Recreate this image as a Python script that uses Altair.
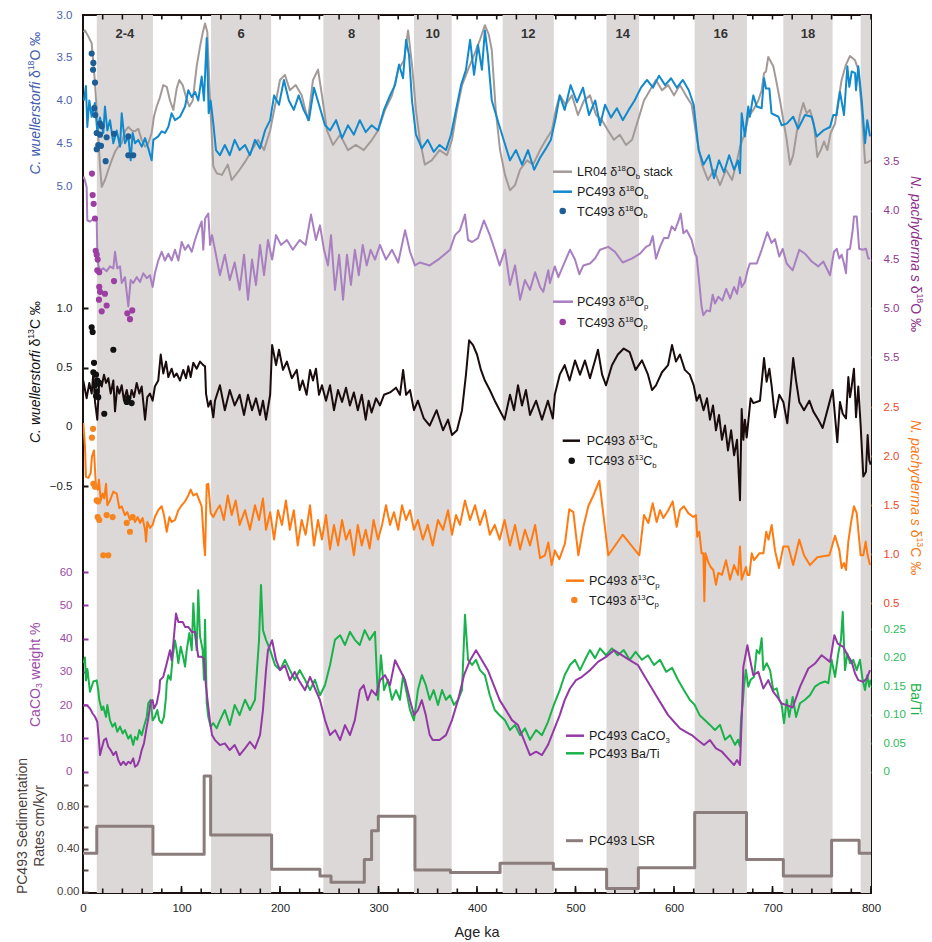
import altair as alt
import pandas as pd

FONT = "Liberation Sans"

# ------------------------------------------------------------------ data
# Marine isotope stage bands (ka) and their labels
BAND_START = [14, 130, 244, 336, 426, 531.5, 621, 711, 789.5]
BAND_END = [71, 191, 301.5, 374.3, 478, 564.5, 674, 761, 800]
STAGE_NAMES = ["2-4", "6", "8", "10", "12", "14", "16", "18"]

# LR04 benthic d18O stack (age ka, permil)
LR04 = [(0.5,3.2),(2,3.18),(5.4,3.25),(8.8,3.33),(12.2,3.8),(14.5,4.23),(17.3,4.77),(19,5.01),(22.3,4.93),(25.7,4.81),(29.1,4.7),(32.5,4.6),(35.8,4.54),(39.3,4.5),(42.6,4.36),(46,4.31),(49.4,4.35),(52.8,4.36),(56.1,4.33),(59.6,4.46),(63,4.54),(66.3,4.5),(69.7,4.38),(72,4.19),(74.8,4.07),(78.2,3.96),(81.5,3.82),(85,3.84),(88.3,4.0),(91.7,4.11),(95.1,3.86),(97.8,3.76),(101.2,3.82),(104.6,3.96),(107.9,4.07),(111.4,4.0),(115.4,3.6),(118.8,3.37),(121.5,3.21),(123.9,3.1),(126.2,3.2),(129,4.0),(132.3,4.77),(135.7,4.85),(141,4.87),(147,4.75),(151,4.93),(159,4.81),(165.5,4.7),(171.6,4.58),(177.7,4.46),(183.8,4.58),(190,4.35),(196,4.0),(200,3.76),(205,3.7),(210,3.88),(216,3.82),(222,3.94),(228.4,4.23),(233.5,3.76),(238.6,3.64),(242.6,3.94),(247.7,4.35),(253.8,4.52),(261,4.4),(269,4.58),(277,4.52),(285,4.58),(293.4,4.46),(299.5,4.35),(306.6,4.11),(313.7,3.94),(320,3.64),(326,3.53),(330,3.18),(334,3.58),(338,4.11),(342,4.46),(347,4.75),(354,4.7),(362,4.58),(369.5,4.64),(374.6,4.46),(379.7,4.11),(384.8,3.82),(390.9,3.64),(397,3.47),(403,3.29),(408,3.12),(412,3.23),(415,3.41),(419,4.11),(423.4,4.58),(428.4,4.87),(433.5,5.05),(438.6,4.99),(443.7,4.81),(450.8,4.7),(456.9,4.75),(464,4.58),(470,4.46),(476,4.35),(480,4.11),(484,3.94),(490,4.05),(496.4,3.94),(502.5,4.17),(508.6,4.0),(514.7,3.94),(520.8,4.17),(526.9,4.23),(533,4.35),(539,4.46),(545,4.4),(551.3,4.52),(557.4,4.46),(563.5,4.23),(569.5,4.0),(575.6,3.88),(581.7,3.76),(587.8,3.88),(594,3.82),(600,3.94),(606,3.82),(612,3.94),(618,4.05),(623.4,4.46),(628.4,4.75),(634.5,4.93),(640.6,4.81),(646.7,4.99),(652.8,4.81),(659,4.93),(664,4.7),(667,4.54),(672,4.38),(675.4,4.19),(680.5,4.11),(685.6,4.0),(689,3.88),(691.4,3.68),(693.4,3.66),(695.7,3.49),(700.8,3.6),(704.3,3.8),(707.6,4.0),(711,4.23),(714.4,4.46),(717.8,4.75),(721,4.64),(724.5,4.38),(727.9,4.17),(731.3,4.03),(734.7,4.15),(738,4.11),(742,4.27),(745.5,4.66),(749,4.58),(752.3,4.48),(755.7,4.58),(759,4.38),(763.5,4.27),(766.8,4.0),(770.2,3.76),(774.6,3.58),(778.7,3.48),(783.8,3.53),(787.1,3.64),(790.6,4.11),(794,4.73),(797.3,4.72),(799.7,4.7)]

# PC493 benthic (C. wuellerstorfi) d18O
PC_D18OB = [(1,4.0),(3,3.83),(4.4,4.31),(6.4,4.0),(8.8,4.19),(12,4.03),(14.5,4.36),(17.3,4.2),(20.6,4.38),(22.3,4.07),(24.7,4.35),(27.4,4.23),(30.8,4.5),(34.2,4.35),(37.6,4.54),(39.3,4.15),(42.6,4.5),(46,4.42),(48.4,4.7),(50.4,4.38),(52.8,4.5),(56.1,4.46),(59.6,4.54),(63,4.44),(66.3,4.56),(69.7,4.7),(71.4,4.46),(76.4,4.42),(79.9,4.36),(83.2,4.38),(86.6,4.31),(90,4.15),(93.4,4.23),(98.5,4.19),(103.6,4.07),(106.9,3.88),(110.4,3.96),(113.7,3.9),(117,4.0),(120.5,3.72),(122.8,4.0),(125.6,3.27),(127.6,4.15),(129.6,4.0),(132.3,4.27),(135,4.58),(139,4.64),(144,4.52),(149,4.64),(154,4.46),(159,4.58),(164.5,4.52),(169.5,4.64),(174.6,4.46),(179.7,4.56),(184.8,4.35),(190,4.23),(194,3.94),(199,4.05),(204,3.76),(209,4.0),(214,4.11),(219,3.94),(224,4.11),(229.4,4.23),(234.5,3.85),(239.6,4.05),(245.7,4.29),(250.8,4.35),(256.9,4.23),(263,4.44),(269,4.29),(275,4.4),(281,4.23),(287,4.37),(293,4.29),(299.5,4.35),(305.6,4.11),(311.7,3.94),(316.8,3.82),(320.8,3.58),(324.9,3.74),(328,3.29),(331,3.47),(334,4.0),(338,4.4),(344,4.56),(350,4.46),(356,4.6),(362,4.52),(368.5,4.58),(373.6,4.4),(378.7,4.11),(383.8,3.82),(388.8,3.64),(393,3.29),(397,3.7),(401,3.35),(405,3.64),(408,3.18),(411,3.47),(415,4.0),(421,4.23),(427,4.46),(433.5,4.7),(439.6,4.58),(445.7,4.75),(451.8,4.58),(458,4.81),(464,4.67),(470,4.56),(475,4.46),(480,4.2),(484,3.94),(489,4.11),(495,3.82),(501.5,4.02),(507.6,3.85),(513.7,4.17),(520,4.0),(525,4.29),(530,4.05),(536,4.2),(542,4.09),(548,4.23),(554,4.11),(560,4.0),(566.5,3.85),(572.6,3.76),(578.7,3.85),(584.8,3.71),(591,3.82),(597,3.74),(603,3.85),(609,3.76),(615,3.88),(620,4.05),(625,4.58),(630,4.75),(635.5,4.64),(640.6,4.91),(645.7,4.7),(650.8,4.84),(656,4.64),(661,4.81),(665,4.7),(667,4.85),(668.7,4.15),(672,4.42),(675.4,4.07),(677,4.19),(680.5,3.94),(684,4.07),(689,4.09),(691.4,3.74),(693.4,3.86),(696.8,3.86),(699,4.15),(706,4.19),(709.3,4.29),(714.4,4.27),(721,4.19),(726,4.33),(733,4.17),(739.8,4.19),(744.8,4.42),(751.6,4.35),(758.4,4.31),(761.7,4.17),(765,4.17),(768.5,3.9),(772.6,4.17),(776,3.6),(778,3.84),(780.4,3.66),(783.8,3.68),(784.8,3.88),(787.1,3.6),(790.6,4.0),(794,4.5),(796.2,4.23),(799,4.42)]

# TC493 core-top benthic d18O
TC_D18OB = [(8.8,3.45),(10.5,3.56),(10.2,3.64),(12.2,3.79),(11.5,4.09),(12.5,4.17),(17.3,4.27),(19,4.3),(13.9,4.38),(17.3,4.4),(24,4.43),(31.5,4.39),(15.5,4.52),(13.9,4.57),(18.3,4.53),(46,4.42),(46,4.64),(51,4.64),(23,4.71)]

# PC493 planktic (N. pachyderma s) d18O
PC_D18OP = [(0.5,3.65),(2,3.69),(3.7,3.76),(4.4,4.1),(7.1,4.11),(10,4.09),(13.9,4.1),(14.5,4.4),(15.5,4.56),(17.3,4.61),(20.6,4.59),(24,4.62),(27.4,4.57),(30.8,4.59),(32.5,4.42),(34.8,4.59),(37.6,4.57),(39.3,4.74),(42.6,4.68),(46,4.98),(48.4,4.71),(51,4.74),(54.5,4.68),(57.9,4.73),(61.2,4.64),(64.7,4.69),(68,4.66),(70.7,4.78),(73,4.64),(76.4,4.51),(79.9,4.42),(83.2,4.51),(86.6,4.44),(90,4.51),(93.4,4.4),(96.8,4.51),(100.2,4.32),(103.6,4.4),(106.9,4.35),(110.4,4.42),(113.7,4.3),(117,4.2),(120.5,4.11),(122.1,4.4),(124,4.08),(127.2,4.03),(129,4.35),(131,4.25),(134,4.4),(139,4.66),(144,4.45),(149,4.71),(154,4.53),(159,4.81),(163.5,4.45),(167.5,4.91),(171.6,4.5),(175.6,4.76),(179.7,4.35),(183.8,4.66),(187.8,4.3),(192,4.5),(196,4.25),(201,4.35),(207,4.3),(213,4.4),(220,4.3),(226,4.35),(231.5,4.04),(236.5,4.3),(240.6,4.15),(244.7,4.4),(248.7,4.56),(251.8,4.25),(255.8,4.81),(260,4.45),(264,4.91),(268,4.45),(272,4.76),(276,4.4),(280,4.66),(284,4.35),(288,4.56),(292,4.4),(296.4,4.5),(301.5,4.35),(307.6,4.5),(313.7,4.4),(320,4.53),(327,4.2),(332,4.42),(337,4.56),(342,4.53),(352,4.56),(362,4.49),(372.6,4.4),(377.7,4.25),(382.7,4.2),(387.8,4.04),(390.9,4.3),(395,4.32),(401,4.28),(407,4.1),(413,4.25),(418,4.4),(423,4.56),(428.4,4.4),(433.5,4.76),(438.6,4.56),(443.7,4.91),(448.7,4.71),(453.8,4.81),(459,4.63),(464,4.78),(467.3,4.83),(472.4,4.61),(474,4.74),(479,4.57),(482.6,4.68),(487.6,4.56),(494.4,4.4),(499.5,4.5),(503.9,4.65),(508,4.56),(514.7,4.54),(519.8,4.49),(524.9,4.4),(533.3,4.37),(540,4.42),(547.9,4.53),(557,4.49),(565.5,4.44),(571.6,4.37),(575.6,4.35),(578.4,4.26),(581.7,4.49),(585.8,4.37),(589.8,4.28),(594.2,4.28),(597.7,4.16),(601,4.2),(604.4,4.11),(606.8,4.03),(609.5,4.23),(612.9,4.2),(618,4.3),(621.3,4.44),(623,4.47),(625.7,4.74),(628,4.98),(629.8,5.07),(633.2,5.02),(636.5,5.03),(639.3,4.86),(641.6,4.95),(645,4.88),(649,4.92),(653,4.8),(657,4.9),(661,4.78),(664,4.85),(667,4.68),(668.7,4.78),(672,4.73),(674.5,4.62),(677,4.54),(684,4.54),(689,4.4),(694.7,4.22),(699,4.33),(702.5,4.29),(706.9,4.47),(710.3,4.39),(714.4,4.54),(720.5,4.61),(727.2,4.4),(733,4.44),(739.8,4.52),(746.5,4.57),(751.6,4.52),(758.4,4.66),(762.4,4.42),(765.2,4.39),(767.8,4.49),(770.2,4.45),(772.6,4.54),(774.6,4.64),(776,4.4),(778.7,4.39),(781.4,4.2),(782.7,4.06),(785.5,4.06),(788,4.39),(791.5,4.4),(794.9,4.39),(797.3,4.49),(799,4.49)]

# TC493 core-top planktic d18O
TC_D18OP = [(9.1,3.62),(9.8,3.84),(10.8,3.93),(12.2,4.08),(12.9,4.41),(13.9,4.45),(14.9,4.5),(14.5,4.61),(16.5,4.63),(16.5,4.78),(22.3,4.85),(17.3,4.83),(16.2,4.91),(24,4.97),(19,5.03),(31.5,4.72),(45,5.05),(50,5.02),(47.7,5.11)]

# PC493 benthic d13C
PC_D13CB = [(0.3,0.39),(3.7,0.24),(6.4,0.37),(8.8,0.28),(10.5,0.45),(12.2,0.21),(14.5,0.06),(16.5,0.39),(19,0.34),(21.3,0.44),(23.4,0.37),(25.7,0.41),(28.1,0.28),(30.8,0.39),(32.5,0.13),(34.8,0.34),(36.9,0.28),(39.3,0.35),(41.6,0.22),(44.4,0.31),(47,0.2),(49.4,0.31),(51.8,0.25),(54.5,0.37),(57.2,0.28),(59.6,0.34),(63,0.06),(65.3,0.25),(68,0.28),(70.7,0.22),(73,0.34),(76.4,0.39),(78.9,0.61),(81.5,0.45),(84.3,0.55),(86.6,0.42),(90,0.49),(92.4,0.42),(95.1,0.45),(98.5,0.39),(101.8,0.48),(104.6,0.41),(106.9,0.51),(109.3,0.42),(112,0.54),(115.4,0.49),(118.8,0.55),(122.1,0.52),(123.9,0.51),(124.9,0.28),(127.2,0.17),(129.6,0.22),(132.3,0.08),(134,0.22),(139,0.35),(144,0.14),(149,0.31),(154,0.18),(159,0.27),(163.5,0.1),(167.5,0.27),(171.6,0.14),(175.6,0.24),(179.7,0.1),(182.7,0.22),(185.8,0.06),(190,0.27),(192,0.69),(196,0.52),(199,0.65),(203,0.48),(207,0.55),(212,0.41),(217,0.48),(220,0.31),(223,0.39),(227,0.27),(230.5,0.48),(233.5,0.39),(236.5,0.49),(239.6,0.27),(242.6,0.35),(246.7,0.22),(250.8,0.35),(254.8,0.14),(258.9,0.31),(263,0.21),(267,0.33),(271,0.18),(275,0.29),(279,0.14),(283,0.27),(287,0.06),(290,0.22),(293,0.12),(297.5,0.24),(301.5,0.18),(305.6,0.27),(311.7,0.29),(317.8,0.33),(321.8,0.27),(325,0.48),(328,0.27),(332,0.31),(336,0.14),(340,0.22),(346,0.07),(352,0.01),(359,0.14),(365.5,-0.03),(370.6,0.06),(374.6,-0.07),(379.7,-0.03),(384.8,0.14),(388.8,0.44),(392,0.73),(396,0.69),(400,0.61),(404,0.48),(408,0.39),(413,0.31),(418,0.22),(423,0.14),(428,0.06),(433.5,0.27),(437.6,0.14),(441.6,0.35),(445.7,0.18),(449.7,0.31),(453.8,0.1),(460,0.22),(466,0.06),(472,0.22),(477,0.07),(479,0.27),(484,0.44),(489,0.52),(494,0.39),(499.5,0.56),(504.6,0.44),(509.6,0.56),(514.7,0.41),(519.8,0.56),(522.8,0.65),(527,0.44),(531,0.35),(537,0.52),(543,0.61),(549,0.66),(555,0.63),(561,0.48),(567.5,0.56),(573.6,0.44),(577.7,0.31),(581.7,0.35),(587.8,0.46),(594,0.52),(598,0.69),(602,0.55),(606,0.61),(611,0.48),(616,0.44),(620,0.35),(623,0.22),(626,0.27),(630,0.14),(633.5,0.24),(636.5,0.06),(639.6,0.18),(642.6,-0.03),(645.7,0.1),(648.7,-0.11),(651.8,0.01),(654.8,-0.2),(658,-0.03),(661,-0.24),(664,-0.11),(667,-0.62),(668.7,0.15),(670.4,-0.11),(672,0.06),(673.8,-0.09),(677.8,0.24),(680.5,0.2),(687.3,0.22),(691.4,0.58),(694,0.38),(696.8,0.49),(699.2,0.34),(702.5,0.08),(706.9,0.27),(711,0.21),(715,0.03),(718.5,0.34),(721,0.58),(723.9,0.39),(727.2,0.21),(732,0.14),(737.4,0.22),(741.4,0.13),(746.5,0.06),(750.9,-0.01),(756.7,0.17),(761.1,0.31),(765.8,-0.13),(768.5,0.21),(771.3,0.11),(774.6,0.07),(777,0.42),(778.7,0.25),(780.4,0.34),(782.7,0.49),(784.8,0.08),(787.1,0.34),(789.5,0.01),(792.2,-0.42),(794.9,-0.38),(796.6,-0.07),(798.2,-0.28),(799.7,-0.32)]

# TC493 core-top benthic d13C
TC_D13CB = [(8.8,0.84),(9.8,0.8),(30.8,0.65),(11.2,0.54),(10.5,0.46),(13.2,0.44),(14.5,0.39),(12.2,0.35),(16.5,0.37),(13.9,0.3),(15.5,0.25),(13.2,0.26),(21.6,0.11),(44.4,0.21),(49.4,0.2),(46,0.24)]

# PC493 planktic d13C
PC_D13CP = [(0.3,2.34),(2,2.1),(3,1.79),(5.4,1.78),(7.8,1.83),(9.1,2.0),(11.2,2.06),(12.2,1.86),(13.2,1.69),(14.9,1.66),(16.2,1.76),(18,1.55),(20,1.62),(21.6,1.57),(23.4,1.72),(24.7,1.5),(27.4,1.55),(30.8,1.64),(34.2,1.62),(36.9,1.47),(39.3,1.49),(42.6,1.4),(45,1.43),(47.7,1.35),(50.4,1.4),(52.8,1.33),(55.5,1.38),(57.9,1.32),(60.5,1.37),(63,1.25),(64,1.13),(65.3,1.33),(68,1.27),(70.7,1.3),(73,1.38),(76.4,1.45),(79.9,1.49),(82.2,1.4),(85,1.23),(87.7,1.38),(90,1.33),(93.4,1.35),(96.8,1.45),(100.2,1.5),(103.6,1.54),(106.9,1.6),(109.3,1.66),(112,1.6),(115.4,1.62),(118.1,1.55),(120.5,1.49),(122.8,1.11),(123.9,0.99),(125.6,1.71),(127.2,1.72),(129.6,1.42),(132.3,1.38),(135.7,1.45),(139,1.5),(143,1.35),(147,1.6),(151,1.4),(155,1.55),(159,1.3),(164.5,1.45),(169.5,1.25),(174.6,1.5),(178.7,1.35),(182.7,1.57),(185.8,1.25),(190,1.43),(194,1.15),(198,1.45),(202,1.3),(206,1.55),(210,1.25),(214,1.45),(218,1.09),(222,1.35),(226,1.2),(230.5,1.5),(234.5,1.09),(238.6,1.35),(242.6,1.15),(246.7,1.4),(250.8,1.05),(254.8,1.3),(259,1.09),(263,1.35),(267,1.15),(271,1.25),(275,0.99),(279,1.3),(283,1.09),(287,1.25),(291,1.06),(295,1.35),(299.5,1.15),(303.6,1.3),(307.6,1.5),(311.7,1.3),(315.7,1.43),(320,1.25),(323.9,1.5),(328,1.35),(332,1.45),(336,1.25),(340,1.35),(345,1.15),(350,1.3),(355,1.09),(360.4,1.35),(365.5,1.25),(370.6,1.45),(374.6,1.2),(378.7,1.4),(382.7,1.3),(387.8,1.55),(392.9,1.35),(398,1.5),(403,1.3),(408,1.45),(413,1.2),(418,1.3),(423,1.15),(428,1.35),(433.5,1.09),(438.6,1.3),(443.7,1.05),(448.7,1.25),(453.8,1.09),(459,1.3),(464,0.96),(469,0.99),(472.4,1.12),(475.8,0.89),(479,1.04),(483.6,0.95),(489.3,1.11),(493.7,1.46),(497.8,1.43),(502.9,0.99),(508,1.28),(513,1.49),(518.1,1.6),(524.2,1.75),(533.3,0.99),(547.9,1.2),(564.8,0.99),(569.5,1.4),(574,1.32),(578.4,1.52),(582.4,1.33),(585.8,1.45),(589.2,1.37),(594.2,1.45),(598.7,1.54),(602.7,1.28),(606,1.45),(610,1.49),(614.5,1.42),(619.6,1.38),(622.3,1.4),(623.6,1.18),(625.7,1.23),(628,1.01),(629.8,1.01),(630.8,0.52),(632,1.01),(634.8,0.92),(637.2,0.87),(639.9,0.84),(642.6,0.69),(645,0.81),(648.7,0.79),(652.8,0.94),(656.9,0.74),(661,0.89),(665,0.79),(667,1.08),(668.7,0.74),(671,0.81),(673,0.87),(674.5,0.79),(676.6,0.79),(678.9,1.01),(681.3,0.94),(686.7,1.01),(690.8,1.01),(693.6,1.23),(696,1.15),(699.2,1.3),(702.5,1.04),(706.6,0.86),(711,1.08),(716,1.08),(721,0.89),(727.2,1.15),(732,0.99),(738,0.89),(745.5,0.97),(757.7,0.99),(763.5,1.19),(767.9,1.04),(770.2,0.86),(772.6,0.91),(774.6,0.84),(777,1.13),(779.7,1.32),(782.7,1.49),(785.5,1.42),(789.5,0.99),(792.2,0.99),(794.6,1.13),(796.6,0.99),(799,0.89)]

# TC493 core-top planktic d13C
TC_D13CP = [(10.2,2.28),(9.1,2.19),(10.5,1.72),(12.2,1.69),(13.9,1.55),(15.5,1.54),(14.9,1.38),(16.5,1.35),(24,1.4),(30.1,1.38),(44.4,1.32),(47.7,1.23),(50.4,1.38),(20.6,0.99),(25.7,0.99)]

# PC493 CaCO3 weight %
CACO3 = [(0.3,20),(3.7,20),(7.1,19),(9.8,17.5),(12.2,16.5),(14.5,15),(16.2,9.5),(17.3,5),(19,7),(21.3,9.5),(23.4,10),(25.7,7.5),(28.1,6.5),(30.8,5),(33.5,6),(35.8,3.5),(38.3,2),(41,3),(43.7,2),(46,3),(48.4,2.5),(51,4),(52.8,1.5),(55.1,2),(57.2,3.5),(59.6,6.5),(61.9,8.5),(64.7,13.5),(66.3,16),(68.7,21),(70.7,21.5),(72.1,19),(74.8,20.5),(77.5,24.5),(78.2,27.5),(81.5,28.5),(85,32.5),(88.3,36.5),(90,33.5),(91.7,38.5),(94.4,47.5),(96.8,45),(101.2,45),(103.6,43.5),(106.9,43.5),(110.4,42),(113.7,42),(117,34.5),(120.5,34.5),(122.8,34),(124.6,26.5),(126.2,22),(129,15),(131,11),(134,9.5),(139,8),(144,8.5),(149,6.5),(154,8),(159,5),(164.5,7),(169.5,9),(174.6,7),(179.7,11),(182.7,18.5),(185.8,30.5),(187.8,36.5),(192,39.5),(196,33.5),(200,30.5),(205,32),(210,27.5),(215,30),(220,27),(225.4,24.5),(230.5,28.5),(235.5,25),(240.6,21.5),(245.7,15.5),(250.8,11),(256,12.5),(261,9.5),(266,14),(271,11),(276,15.5),(281,24.5),(285,26),(289,21.5),(293,24.5),(297.5,23),(301.5,27.5),(306.6,29),(311.7,26),(316.8,33.5),(322,30.5),(327,27.5),(332,21.5),(336,17),(340,18.5),(344,21.5),(348,17),(352,11),(355,9.5),(362,9.5),(368.5,11),(374.6,15.5),(380.7,21.5),(386.8,29),(393,33.5),(399,36.5),(405,33.5),(411,30.5),(417,26),(423,21.5),(429.4,18.5),(435.5,15.5),(441.6,14),(447.7,9.5),(453.8,5),(460,6),(466,5),(472,8),(478,12.5),(484,17),(489,21.5),(494.4,25),(500.5,27.5),(506.6,28.5),(514.7,30.5),(522.8,33),(531,34.5),(539,36.5),(547,35),(555,33.5),(563.5,32),(569.5,29),(575.6,26),(581.7,23),(587.8,20),(594,17),(600,15),(606,13),(612,12),(618,11),(624,9.5),(630.5,8),(636.5,9.5),(642.6,7),(648.7,6),(654.8,4),(661,2),(664,3.5),(667,2),(668.7,15.5),(670.4,31.5),(674.5,38),(677,34),(680.5,29),(685.6,30),(690.7,25),(695.7,27.5),(700.8,24),(705.9,22),(709.3,20.5),(714.4,20),(720.5,19.3),(727.9,25.5),(736.4,31),(743.1,32.5),(749.9,35),(758.4,33),(762.8,41),(766.2,38.5),(771.9,37.5),(775.3,35.5),(780.4,33),(783.8,29.5),(787.1,27.5),(792.2,27),(795.6,28),(799,30.5)]

# PC493 Ba/Ti
BATI = [(0.5,0.19),(2,0.2),(3,0.16),(4.4,0.18),(7.1,0.14),(10.5,0.158),(13.9,0.16),(15.5,0.143),(16.5,0.126),(19,0.108),(20.6,0.114),(23.4,0.096),(24.7,0.117),(27.4,0.09),(30,0.079),(32.5,0.085),(34.8,0.07),(37.6,0.079),(40.3,0.067),(42.6,0.073),(46,0.058),(48.4,0.064),(51,0.047),(52.8,0.061),(55.1,0.056),(57.2,0.073),(59.6,0.064),(61.9,0.079),(64.7,0.096),(66.3,0.12),(68.7,0.126),(70.7,0.09),(73,0.096),(75.4,0.108),(77.5,0.09),(79.9,0.085),(82.2,0.096),(84.3,0.131),(85,0.155),(86.6,0.169),(89,0.161),(91,0.2),(93.4,0.23),(95.1,0.213),(96.8,0.19),(99.2,0.219),(101.8,0.2),(103.6,0.184),(105.3,0.213),(108,0.243),(110.4,0.213),(112,0.295),(113.7,0.245),(115.4,0.213),(117,0.318),(118.8,0.237),(121.5,0.213),(122.8,0.161),(123.9,0.266),(125.6,0.12),(127.2,0.096),(129.6,0.079),(132.3,0.085),(135.7,0.076),(139,0.09),(144,0.108),(149,0.082),(154,0.117),(159,0.099),(164.5,0.126),(169.5,0.108),(174.6,0.126),(178.7,0.231),(180.7,0.327),(182.7,0.248),(185.8,0.231),(190,0.213),(194.9,0.187),(200,0.178),(205,0.196),(210,0.178),(215,0.161),(220,0.178),(225.4,0.161),(230.5,0.143),(235.5,0.161),(240.6,0.134),(245.7,0.152),(250.8,0.187),(255.8,0.231),(261,0.239),(266,0.222),(271,0.245),(276,0.231),(281,0.222),(286,0.248),(291,0.231),(296.4,0.245),(299.5,0.126),(302.5,0.204),(305.6,0.143),(309.6,0.161),(313.7,0.126),(317.8,0.143),(321.8,0.126),(325,0.169),(328,0.143),(332,0.108),(336,0.09),(340,0.143),(344,0.169),(348,0.152),(352,0.126),(356,0.143),(360.4,0.117),(364.5,0.143),(368.5,0.126),(372.6,0.134),(376.6,0.117),(380.7,0.126),(384.8,0.143),(387.8,0.275),(390.9,0.196),(395,0.187),(399,0.196),(403,0.178),(408,0.169),(413,0.134),(418,0.108),(423,0.099),(428.4,0.09),(433.5,0.073),(438.6,0.082),(443.7,0.064),(448.7,0.076),(453.8,0.056),(460,0.073),(466,0.064),(472,0.087),(478,0.117),(484,0.143),(489,0.169),(494.4,0.187),(499.5,0.196),(504.6,0.178),(509.6,0.196),(514.7,0.213),(519.8,0.199),(524.9,0.216),(531,0.204),(537,0.216),(543,0.204),(549,0.213),(555,0.196),(561,0.21),(567.5,0.196),(573.6,0.204),(579.7,0.187),(585.8,0.196),(592,0.175),(598,0.182),(604,0.161),(610,0.143),(616,0.126),(621,0.117),(626,0.099),(631.5,0.09),(636.5,0.082),(641.6,0.073),(646.7,0.082),(651.8,0.056),(657,0.064),(662,0.047),(665,0.056),(667,0.044),(668,0.09),(669.7,0.12),(671,0.149),(673,0.178),(675.4,0.149),(677.8,0.161),(681.2,0.166),(684,0.213),(686.7,0.207),(689,0.234),(690.7,0.178),(694.1,0.19),(697.5,0.178),(700.8,0.143),(704.3,0.146),(706.9,0.126),(709.3,0.117),(711.7,0.085),(714.4,0.126),(717,0.096),(720.5,0.131),(723.9,0.096),(727.9,0.12),(733,0.126),(738,0.134),(743.1,0.149),(748.2,0.155),(753.3,0.158),(756.7,0.155),(760,0.196),(763.5,0.166),(766.8,0.207),(769.5,0.231),(771.3,0.28),(773.6,0.178),(776,0.207),(778.7,0.19),(782,0.196),(785.5,0.178),(788.8,0.196),(791.5,0.161),(793.9,0.143),(796.2,0.169),(798.2,0.149),(799.7,0.161)]

# PC493 linear sedimentation rate (cm/kyr), each value holds from its age to the next
LSR_AGE = [0, 14, 71, 123, 129.6, 191.5, 240.6, 251.8, 285.6, 293, 299.8, 337, 373, 423.4, 477.5, 531.6, 563.8, 621, 673.6, 711, 760, 788, 800]
LSR_VAL = [0.36, 0.61, 0.35, 1.08, 0.53, 0.21, 0.146, 0.088, 0.30, 0.57, 0.705, 0.203, 0.18, 0.265, 0.21, 0.03, 0.224, 0.74, 0.30, 0.147, 0.48, 0.36, 0.36]

# ------------------------------------------------------------------ layout
PAD_L, PAD_T, PAD_R, PAD_B = 83, 15, 61, 49
W, H = 788, 878


def px(x):
    return x - PAD_L


def py(y):
    return y - PAD_T


def lin_domain(v1, y1, v2, y2):
    """Scale domain (bottom, top) for an axis passing value v1 at page row y1 and v2 at y2."""
    slope = (v2 - v1) / (y2 - y1)
    return [v1 + (PAD_T + H - y1) * slope, v1 + (PAD_T - y1) * slope]


DOM_D18OB = lin_domain(3.0, 15, 5.0, 186)
DOM_D18OP = lin_domain(4.0, 210.7, 5.5, 357.3)
DOM_D13CB = lin_domain(1.0, 308.3, -0.5, 486)
DOM_D13CP = lin_domain(2.5, 407.3, 0.5, 603.3)
DOM_CACO3 = lin_domain(60, 572, 0, 771.7)
DOM_BATI = lin_domain(0.25, 629, 0, 771.7)
DOM_LSR = lin_domain(0.8, 806, 0, 891.7)

# colours
C_BAND = "#dcd8d7"
C_FRAME = "#1a1010"
C_LR04 = "#a39a98"
C_D18OB = "#1189cc"
C_TC18B = "#1d5e97"
C_AX18B = "#4a62b2"
C_D18OP = "#a87fc0"
C_TC18P = "#9d3ea3"
C_AX18P = "#8e3a8f"
C_D13CB = "#1a0c0c"
C_D13CP = "#ff7b12"
C_AX13P = "#f2452a"
C_CACO3 = "#9339a5"
C_AXCA = "#9c4ba8"
C_BATI = "#19b24b"
C_AXBA = "#2db95a"
C_LSR = "#8a7d7b"
C_AXLSR = "#4d3f3d"
C_TEXT = "#1a1a1a"

XS = alt.Scale(domain=[0, 800], nice=False, zero=False)
XAX = alt.Axis(values=list(range(0, 801, 100)), format="d", ticks=False, domain=False, grid=False,
               labelFont=FONT, labelFontSize=11.5, labelColor="#222222", labelPadding=9,
               labelFlush=False, labelOverlap=False, title=None)


def xenc(field):
    return alt.X(f"{field}:Q", scale=XS, axis=XAX)


def frame(pairs, field):
    return pd.DataFrame({"age": [a for a, _ in pairs], field: [v for _, v in pairs]})


def yaxis(orient, values, color, tick_color, pad, fmt=None, expr=None, tick_opacity=1):
    kw = dict(orient=orient, values=values, offset=-5, tickSize=5, tickWidth=2, tickColor=tick_color,
              tickOpacity=tick_opacity, labelColor=color, labelFont=FONT, labelFontSize=11.5,
              labelPadding=pad, labelFlush=False, labelOverlap=False, domain=False, grid=False, title=None)
    if fmt:
        kw["format"] = fmt
    if expr:
        kw["labelExpr"] = expr
    return alt.Axis(**kw)


def yscale(dom):
    return alt.Scale(domain=dom, zero=False, nice=False)


def line(df, field, dom, color, width=1.8, axis=None, interp="linear"):
    return alt.Chart(df).mark_line(color=color, strokeWidth=width, clip=True, interpolate=interp,
                                   strokeJoin="round").encode(
        x=xenc("age"), y=alt.Y(f"{field}:Q", scale=yscale(dom), axis=axis))


def dots(df, field, dom, color):
    return alt.Chart(df).mark_circle(color=color, size=38, opacity=1).encode(
        x=xenc("age"), y=alt.Y(f"{field}:Q", scale=yscale(dom), axis=None))


# ------------------------------------------------------------------ data frames
bands = pd.DataFrame({"start": BAND_START, "end": BAND_END})
stages = pd.DataFrame({"mid": [(s + e) / 2 for s, e in zip(BAND_START, BAND_END)][:len(STAGE_NAMES)],
                       "label": STAGE_NAMES})
minor_ticks = pd.DataFrame({"age": list(range(0, 801, 20))})
major_ticks = pd.DataFrame({"age": list(range(0, 801, 100))})
DUMMY = pd.DataFrame({"k": [0]})

df_lr04 = frame(LR04, "d18o")
df_pc18b = frame(PC_D18OB, "d18o")
df_tc18b = frame(TC_D18OB, "d18o")
df_pc18p = frame(PC_D18OP, "d18o")
df_tc18p = frame(TC_D18OP, "d18o")
df_pc13b = frame(PC_D13CB, "d13c")
df_tc13b = frame(TC_D13CB, "d13c")
df_pc13p = frame(PC_D13CP, "d13c")
df_tc13p = frame(TC_D13CP, "d13c")
df_caco3 = frame(CACO3, "caco3")
df_bati = frame(BATI, "bati")
df_lsr = pd.DataFrame({"age": LSR_AGE, "lsr": LSR_VAL})

# ------------------------------------------------------------------ axes
AX_D18OB = yaxis("left", [3.0, 3.5, 4.0, 4.5, 5.0], C_AX18B, C_AX18B, 11, fmt=".1f", tick_opacity=0)
AX_D13CB = yaxis("left", [1.0, 0.5, 0.0, -0.5], "#222222", C_FRAME, 11,
                 expr="datum.value == 0 ? '0' : format(datum.value, '.1f')",
                 tick_opacity={"condition": {"test": "datum.value == 0", "value": 0}, "value": 1})
AX_CACO3 = yaxis("left", [0, 10, 20, 30, 40, 50, 60], C_AXCA, C_CACO3, 11, fmt="d")
AX_LSR = yaxis("left", [0, 0.2, 0.4, 0.6, 0.8, 1.0], C_AXLSR, "#5a4a48", 4,
               expr="indexof(['0.00','0.40','0.80'], format(datum.value, '.2f')) >= 0 ? format(datum.value, '.2f') : ''")
AX_D18OP = yaxis("right", [3.5, 4.0, 4.5, 5.0, 5.5], C_AX18P, "#9a4a9e", 12, fmt=".1f",
                 tick_opacity={"condition": {"test": "datum.value < 3.7", "value": 0}, "value": 1})
AX_D13CP = yaxis("right", [0.5, 1.0, 1.5, 2.0, 2.5], C_AX13P, "#f47a20", 12, fmt=".1f")
AX_BATI = yaxis("right", [0, 0.05, 0.10, 0.15, 0.20, 0.25], C_AXBA, C_BATI, 12,
                expr="datum.value == 0 ? '0' : format(datum.value, '.2f')")

# ------------------------------------------------------------------ text helpers
ADV = {' ': 278, '.': 278, ',': 278, '-': 333, '/': 278, '%': 889, '\u2030': 1000, '\u03b4': 556,
       'A': 667, 'B': 667, 'C': 722, 'D': 722, 'E': 667, 'F': 611, 'G': 778, 'H': 722, 'I': 278,
       'K': 667, 'L': 556, 'M': 833, 'N': 722, 'O': 778, 'P': 667, 'R': 722, 'S': 667, 'T': 611,
       'a': 556, 'b': 556, 'c': 500, 'd': 556, 'e': 556, 'f': 278, 'g': 556, 'h': 556, 'i': 222,
       'k': 500, 'l': 222, 'm': 833, 'n': 556, 'o': 556, 'p': 556, 'r': 333, 's': 500, 't': 278,
       'u': 556, 'w': 722, 'y': 500}


def text_width(s, size):
    return sum(ADV.get(c, 556) for c in s) * size / 1000.0


def rich(pieces, x0, y0, size, color, angle=0):
    """Text with italic / superscript / subscript runs, starting at page point (x0, y0) on the baseline."""
    along = {0: (1, 0), 90: (0, 1), 270: (0, -1)}[angle]
    up = {0: (0, -1), 90: (1, 0), 270: (-1, 0)}[angle]
    out, adv = [], 0.0
    for t, kind in pieces:
        small = kind in ("sup", "sub")
        s = size * 0.62 if small else size
        shift = 0.40 * size if kind == "sup" else (-0.2 * size if kind == "sub" else 0.0)
        # leading blanks are dropped by SVG, so they only advance the pen
        body = t.lstrip(" ")
        adv += text_width(t[:len(t) - len(body)], s)
        x = x0 + along[0] * adv + up[0] * shift
        y = y0 + along[1] * adv + up[1] * shift
        if body.strip():
            out.append(alt.Chart(DUMMY).mark_text(
                text=body, font=FONT, fontSize=s, fontStyle="italic" if kind == "i" else "normal",
                color=color, angle=angle, align="left", baseline="alphabetic").encode(
                x=alt.value(px(x)), y=alt.value(py(y))))
        adv += text_width(body, s)
    return out


def plain(t, x, y, size, color, angle=0, align="center", baseline="middle", weight="normal"):
    return alt.Chart(DUMMY).mark_text(text=t, font=FONT, fontSize=size, color=color, angle=angle,
                                      align=align, baseline=baseline, fontWeight=weight).encode(
        x=alt.value(px(x)), y=alt.value(py(y)))


def key_line(x1, x2, y, color, width=2.5):
    return alt.Chart(DUMMY).mark_rule(color=color, strokeWidth=width).encode(
        x=alt.value(px(x1)), x2=alt.value(px(x2)), y=alt.value(py(y)))


def key_dot(x, y, color):
    return alt.Chart(DUMMY).mark_circle(color=color, size=42, opacity=1).encode(
        x=alt.value(px(x)), y=alt.value(py(y)))


LS = 12.5   # legend font size
TS = 14.0   # axis title font size
BL = 4.5    # baseline drop from the legend row centre


def iso(prefix, mass, elem, sub, suffix=""):
    p = [(prefix + "\u03b4", "n"), (mass, "sup"), (elem, "n"), (sub, "sub")]
    if suffix:
        p.append((suffix, "n"))
    return p


# ------------------------------------------------------------------ layers
layers = [
    alt.Chart(bands).mark_rect(color=C_BAND).encode(
        x=xenc("start"), x2="end:Q", y=alt.value(0), y2=alt.value(H)),
    alt.Chart(minor_ticks).mark_rule(color=C_FRAME, strokeWidth=1.6).encode(
        x=xenc("age"), y=alt.value(0), y2=alt.value(4.5)),
    alt.Chart(minor_ticks).mark_rule(color=C_FRAME, strokeWidth=1.6).encode(
        x=xenc("age"), y=alt.value(H - 4.5), y2=alt.value(H)),
    alt.Chart(major_ticks).mark_rule(color=C_FRAME, strokeWidth=1.6).encode(
        x=xenc("age"), y=alt.value(H - 7), y2=alt.value(H)),
    alt.Chart(stages).mark_text(font=FONT, fontSize=13, fontWeight="bold", color="#333333").encode(
        x=xenc("mid"), y=alt.value(19), text="label:N"),

    line(df_lr04, "d18o", DOM_D18OB, C_LR04, 2.0),
    line(df_pc18b, "d18o", DOM_D18OB, C_D18OB, 2.0, axis=AX_D18OB),
    line(df_pc18p, "d18o", DOM_D18OP, C_D18OP, 2.0, axis=AX_D18OP),
    line(df_pc13b, "d13c", DOM_D13CB, C_D13CB, 2.0, axis=AX_D13CB),
    line(df_pc13p, "d13c", DOM_D13CP, C_D13CP, 2.0, axis=AX_D13CP),
    line(df_bati, "bati", DOM_BATI, C_BATI, 2.0, axis=AX_BATI),
    line(df_caco3, "caco3", DOM_CACO3, C_CACO3, 2.0, axis=AX_CACO3),
    line(df_lsr, "lsr", DOM_LSR, C_LSR, 3.0, axis=AX_LSR, interp="step-after"),

    dots(df_tc18b, "d18o", DOM_D18OB, C_TC18B),
    dots(df_tc18p, "d18o", DOM_D18OP, C_TC18P),
    dots(df_tc13b, "d13c", DOM_D13CB, "#111111"),
    dots(df_tc13p, "d13c", DOM_D13CP, "#f7851f"),
]

# legend keys
layers += [
    key_line(553, 572, 171.7, C_LR04), key_line(553, 572, 191.7, C_D18OB), key_dot(562.7, 211, C_TC18B),
    key_line(553, 573, 301.7, C_D18OP), key_dot(562.7, 322, C_TC18P),
    key_line(562.7, 580, 440.7, C_D13CB), key_dot(571.7, 460.7, "#111111"),
    key_line(566, 584, 580.7, C_D13CP), key_dot(574.3, 600, "#f7851f"),
    key_line(566, 584, 735.7, C_CACO3), key_line(566, 584, 753.3, C_BATI),
    key_line(566, 583, 840.7, C_LSR, 3.0),
]
layers += rich(iso("LR04 ", "18", "O", "b", " stack"), 577, 171.7 + BL, LS, C_TEXT)
layers += rich(iso("PC493 ", "18", "O", "b"), 577, 191.7 + BL, LS, C_TEXT)
layers += rich(iso("TC493 ", "18", "O", "b"), 577, 211 + BL, LS, C_TEXT)
layers += rich(iso("PC493 ", "18", "O", "p"), 577, 301.7 + BL, LS, C_TEXT)
layers += rich(iso("TC493 ", "18", "O", "p"), 577, 322 + BL, LS, C_TEXT)
layers += rich(iso("PC493 ", "13", "C", "b"), 586.7, 440.7 + BL, LS, C_TEXT)
layers += rich(iso("TC493 ", "13", "C", "b"), 586.7, 460.7 + BL, LS, C_TEXT)
layers += rich(iso("PC493 ", "13", "C", "p"), 589, 580.7 + BL, LS, C_TEXT)
layers += rich(iso("TC493 ", "13", "C", "p"), 589, 600 + BL, LS, C_TEXT)
layers += rich([("PC493 CaCO", "n"), ("3", "sub")], 589, 735.7 + BL, LS, C_TEXT)
layers += rich([("PC493 Ba/Ti", "n")], 589, 753.3 + BL, LS, C_TEXT)
layers += rich([("PC493 LSR", "n")], 589, 840.7 + BL, LS, C_TEXT)

# axis titles
layers += rich([("C. wuellerstorfi ", "i"), ("\u03b4", "n"), ("18", "sup"), ("O \u2030", "n")],
               39.5, 174.5, TS, "#3f5cae", angle=270)
layers += rich([("C. wuellerstorfi ", "i"), ("\u03b4", "n"), ("13", "sup"), ("C \u2030", "n")],
               39.5, 443, TS, "#111111", angle=270)
layers += rich([("CaCO", "n"), ("3", "sub"), (" weight %", "n")], 39.5, 727, TS, C_AXCA, angle=270)
layers += [
    plain("PC493 Sedimentation", 26.5, 826, TS, C_AXLSR, angle=270, baseline="alphabetic"),
    plain("Rates cm/kyr", 44, 826, TS, C_AXLSR, angle=270, baseline="alphabetic"),
]
layers += rich([("N. pachyderma s ", "i"), ("\u03b4", "n"), ("18", "sup"), ("O \u2030", "n")],
               911, 176, TS, "#8d2f8c", angle=90)
layers += rich([("N. pachyderma s ", "i"), ("\u03b4", "n"), ("13", "sup"), ("C \u2030", "n")],
               911, 420, TS, "#f47a20", angle=90)
layers += rich([("Ba/Ti", "n")], 911, 683, TS, C_BATI, angle=90)
layers += [plain("Age ka", 477, 933, 14.5, "#222222")]

chart = alt.layer(*layers).resolve_scale(y="independent").properties(
    width=W, height=H,
    autosize=alt.AutoSizeParams(type="none"),
    padding={"left": PAD_L, "top": PAD_T, "right": PAD_R, "bottom": PAD_B},
).configure(background="white").configure_view(stroke=C_FRAME, strokeWidth=2)

chart.save("out.html", embed_options={"renderer": "svg", "actions": False})
